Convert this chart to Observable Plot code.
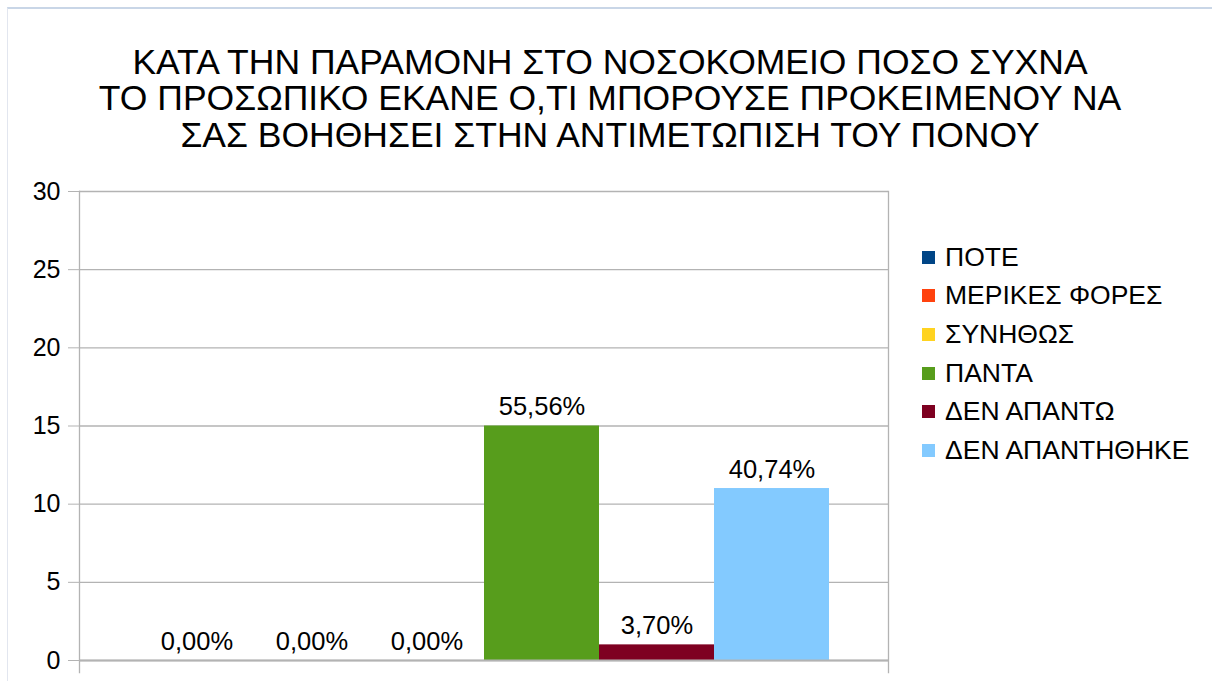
<!DOCTYPE html>
<html>
<head>
<meta charset="utf-8">
<script src="https://cdn.jsdelivr.net/npm/d3@7"></script>
<script src="https://cdn.jsdelivr.net/npm/@observablehq/plot@0.6"></script>
<style>
  html, body { margin: 0; padding: 0; background: #fff; }
  #chart {
    position: relative; width: 1212px; height: 681px; overflow: hidden;
    font-family: "Liberation Sans", Arial, sans-serif; color: #000;
  }
  #edge {
    position: absolute; left: 7px; top: 7px; right: -10px; bottom: -10px;
    border-top: 2px solid #c9d6e7; border-left: 1px solid #e2e6ef;
  }
  #title {
    position: relative; height: 170px; box-sizing: border-box;
    padding-top: 43.5px; text-align: center; font-size: 35.5px; line-height: 36.5px;
    padding-left: 8px;
  }
  #legend {
    position: absolute; left: 922px; top: 238px; font-size: 26.5px;
  }
  #legend .row { display: flex; align-items: center; height: 38.6px; }
  #legend .sw { width: 13px; height: 13px; margin-right: 10px; }
  svg { display: block; }
</style>
</head>
<body>
<div id="chart">
  <div id="edge"></div>
  <div id="title"></div>
  <div id="plot"></div>
  <div id="legend"></div>
</div>
<script>
// Question asked of the patients
const titleLines = [
  "ΚΑΤΑ ΤΗΝ ΠΑΡΑΜΟΝΗ ΣΤΟ ΝΟΣΟΚΟΜΕΙΟ ΠΟΣΟ ΣΥΧΝΑ",
  "ΤΟ ΠΡΟΣΩΠΙΚΟ ΕΚΑΝΕ Ο,ΤΙ ΜΠΟΡΟΥΣΕ ΠΡΟΚΕΙΜΕΝΟΥ ΝΑ",
  "ΣΑΣ ΒΟΗΘΗΣΕΙ ΣΤΗΝ ΑΝΤΙΜΕΤΩΠΙΣΗ ΤΟΥ ΠΟΝΟΥ"
];
// Answers and number of respondents for each
const answers = ["ΠΟΤΕ", "ΜΕΡΙΚΕΣ ΦΟΡΕΣ", "ΣΥΝΗΘΩΣ", "ΠΑΝΤΑ", "ΔΕΝ ΑΠΑΝΤΩ", "ΔΕΝ ΑΠΑΝΤΗΘΗΚΕ"];
const counts = [0, 0, 0, 15, 1, 11];
const colors = ["#004586", "#ff420e", "#ffd320", "#579d1c", "#7e0021", "#83caff"];
const yTicks = [0, 5, 10, 15, 20, 25, 30];

const total = d3.sum(counts);
const data = answers.map((a, i) => ({answer: a, count: counts[i]}));
const pct = d => (d.count / total * 100).toFixed(2).replace(".", ",") + "%";

document.getElementById("title").innerHTML = titleLines.map(t => `<div>${t}</div>`).join("");

const grey = "#b3b3b3";
const chart = Plot.plot({
  width: 1212,
  height: 511,
  marginTop: 21,
  marginBottom: 21,
  marginLeft: 79,
  marginRight: 324,
  style: {fontFamily: "'Liberation Sans', Arial, sans-serif", fontSize: "25px", color: "#000"},
  x: {domain: answers, padding: 0, insetLeft: 57, insetRight: 57, axis: null},
  y: {domain: [0, 30]},
  color: {domain: answers, range: colors},
  marks: [
    Plot.gridY(yTicks, {stroke: grey, strokeOpacity: 1, strokeWidth: 1.3}),
    Plot.frame({anchor: "left", stroke: grey, strokeWidth: 1.3, insetBottom: -12}),
    Plot.frame({anchor: "right", stroke: grey, strokeWidth: 1.3, insetBottom: -12}),
    Plot.axisY(yTicks, {tickSize: 11, tickPadding: 8, stroke: grey, fill: "#000", fontSize: 25, label: null}),
    Plot.barY(data, {x: "answer", y: "count", fill: "answer"}),
    Plot.ruleY([0], {stroke: grey, strokeWidth: 2}),
    Plot.text(data, {x: "answer", y: "count", text: pct, lineAnchor: "bottom", dy: -11, fontSize: 25.5, fill: "#000"})
  ]
});
document.getElementById("plot").appendChild(chart);

// Legend listing each answer with its colour
document.getElementById("legend").innerHTML = answers.map((a, i) =>
  `<div class="row"><div class="sw" style="background:${colors[i]}"></div><span>${a}</span></div>`
).join("");
</script>
</body>
</html>
